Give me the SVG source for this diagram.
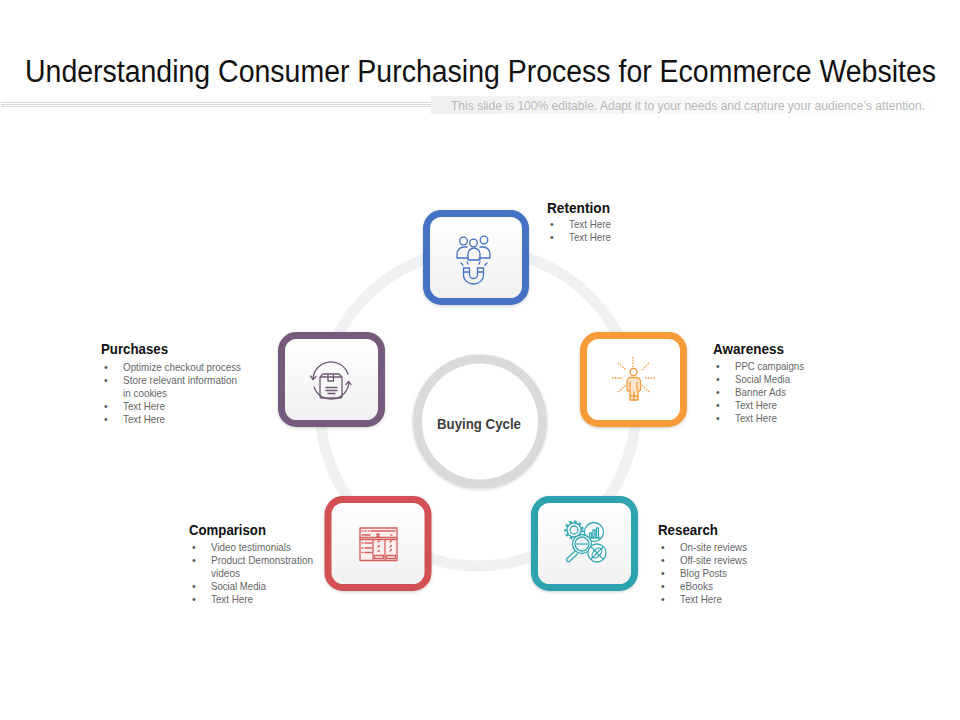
<svg xmlns="http://www.w3.org/2000/svg" width="960" height="720" viewBox="0 0 960 720">
<style>
text{font-family:"Liberation Sans",Arial,sans-serif}
.h{font-size:14.500px;font-weight:700;fill:#111}
.t{font-size:10.500px;fill:#666}
.b{font-size:10.500px;fill:#555}
.card{stroke-width:7;fill:url(#cardfill)}
.ic{fill:none;stroke-width:1.300;stroke-linecap:round;stroke-linejoin:round}
</style>
<defs>
<linearGradient id="cardfill" x1="0" y1="0" x2="0" y2="1"><stop offset="0" stop-color="#fff"/><stop offset="1" stop-color="#f1f1f1"/></linearGradient>
<linearGradient id="strip" x1="0" y1="0" x2="1" y2="0"><stop offset="0" stop-color="#f0f0f0"/><stop offset=".45" stop-color="#f7f7f7"/><stop offset="1" stop-color="#fff"/></linearGradient>
<filter id="sh" x="-20%" y="-20%" width="140%" height="140%"><feDropShadow dx="0" dy="1" stdDeviation="1.500" flood-color="#000" flood-opacity=".2"/></filter>
</defs>
<rect width="960" height="720" fill="#fff"/>
<text x="25" y="82" font-size="31" fill="#111" textLength="911" lengthAdjust="spacingAndGlyphs">Understanding Consumer Purchasing Process for Ecommerce Websites</text>
<g stroke="#d6d6d6" stroke-width="1"><path d="M1 102.500H431M1 104.500H431M1 106.500H431"/></g>
<rect x="431" y="96" width="510" height="18" fill="url(#strip)"/>
<text x="451" y="110" font-size="12" fill="#b9b9b9" textLength="474" lengthAdjust="spacingAndGlyphs">This slide is 100% editable. Adapt it to your needs and capture your audience’s attention.</text>

<circle cx="478" cy="408" r="158" fill="none" stroke="#f1f1f1" stroke-width="11"/>

<g id="center">
<circle cx="480" cy="421.500" r="62.500" fill="#fff" stroke="#dadada" stroke-width="9" filter="url(#sh)"/>
<text x="437" y="429" font-size="14.500" font-weight="700" fill="#404040" textLength="84" lengthAdjust="spacingAndGlyphs">Buying Cycle</text>
</g>

<g id="retention">
<rect class="card" x="426.500" y="213.500" width="99" height="88" rx="15" stroke="#4472c4" filter="url(#sh)"/>
<g class="ic" stroke="#4472c4">
<circle cx="463.500" cy="241" r="3.800"/><circle cx="484" cy="240" r="3.800"/><circle cx="473.500" cy="243" r="3.800"/>
<path d="M468 258h-11v-4a7 7 0 0 1 7-7h3M479 258h11v-4a7 7 0 0 0-7-7h-3"/>
<path d="M468 260v-6a6 6 0 0 1 12 0v6z"/>
<path d="M463.500 268v7a10 9 0 0 0 20 0v-7h-6v7a4 3.500 0 0 1-8 0v-7zM463.500 272h6M477.500 272h6"/>
<path d="M461 263l2 2M467 262l1 2M479 264l1-2M485 265l2-2"/>
</g>
<text class="h" x="547" y="213" textLength="63" lengthAdjust="spacingAndGlyphs">Retention</text>
<text class="b" x="550" y="228">•</text><text class="t" x="569" y="228" textLength="42" lengthAdjust="spacingAndGlyphs">Text Here</text>
<text class="b" x="550" y="241">•</text><text class="t" x="569" y="241" textLength="42" lengthAdjust="spacingAndGlyphs">Text Here</text>
</g>

<g id="awareness">
<rect x="583.500" y="335.500" width="100" height="88" rx="15" fill="#fff" stroke="#f79a38" stroke-width="7" filter="url(#sh)"/>
<g class="ic" stroke="#f39a3d">
<circle cx="633.500" cy="372" r="3.500"/>
<path d="M630 400v-9h-1.500a1.500 1.500 0 0 1-1.500-1.500v-8a4 4 0 0 1 4-4h5.500a4 4 0 0 1 4 4v8a1.500 1.500 0 0 1-1.500 1.500H638v9z" fill="#fde6cf"/>
<path d="M630 382v8M637 382v8M634 392v8M630 396h8"/>
<path stroke-dasharray="1.500 1.300" stroke-linecap="butt" d="M633 357v10M612 378h11M645 378h10M618 363l8 7M649 363l-7 7M618 392l8-7M649 392l-7-7"/>
</g>
<text class="h" x="713" y="354" textLength="71" lengthAdjust="spacingAndGlyphs">Awareness</text>
<text class="b" x="716" y="370">•</text><text class="t" x="735" y="370" textLength="69" lengthAdjust="spacingAndGlyphs">PPC campaigns</text>
<text class="b" x="716" y="383">•</text><text class="t" x="735" y="383" textLength="55" lengthAdjust="spacingAndGlyphs">Social Media</text>
<text class="b" x="716" y="396">•</text><text class="t" x="735" y="396" textLength="51" lengthAdjust="spacingAndGlyphs">Banner Ads</text>
<text class="b" x="716" y="409">•</text><text class="t" x="735" y="409" textLength="42" lengthAdjust="spacingAndGlyphs">Text Here</text>
<text class="b" x="716" y="422">•</text><text class="t" x="735" y="422" textLength="42" lengthAdjust="spacingAndGlyphs">Text Here</text>
</g>

<g id="research">
<rect class="card" x="534.500" y="499.500" width="100" height="88" rx="15" stroke="#2ea3b0" filter="url(#sh)"/>
<g class="ic" stroke="#35a9b5" stroke-width="1.100">
<circle cx="574" cy="530" r="4"/>
<circle cx="574" cy="530" r="7"/>
<circle cx="574" cy="530" r="8.500" stroke-width="2.400" stroke-dasharray="2.500 2.500" stroke-linecap="butt"/>
<circle cx="594" cy="532" r="9.500" fill="#fff"/>
<path d="M588 538h12M589.500 538v-5h2v5M593 538v-8h2v8M596.500 538v-10h2v10"/>
<circle cx="582" cy="544" r="9.500" fill="#fff"/><circle cx="582" cy="544" r="7" fill="#eaf6f7"/>
<path stroke-dasharray="1.500 1.500" d="M577 544h10"/>
<path d="M575 551l-8 7.500a2 2 0 0 0 2.500 3l8-7.500"/>
<circle cx="597" cy="553" r="9" fill="#fff"/>
<path d="M591 547l12 12M603 547l-12 12"/><ellipse cx="597" cy="553" rx="3.500" ry="6" transform="rotate(45 597 553)"/>
</g>
<text class="h" x="658" y="535" textLength="60" lengthAdjust="spacingAndGlyphs">Research</text>
<text class="b" x="661" y="551">•</text><text class="t" x="680" y="551" textLength="67" lengthAdjust="spacingAndGlyphs">On-site reviews</text>
<text class="b" x="661" y="564">•</text><text class="t" x="680" y="564" textLength="67" lengthAdjust="spacingAndGlyphs">Off-site reviews</text>
<text class="b" x="661" y="577">•</text><text class="t" x="680" y="577" textLength="47" lengthAdjust="spacingAndGlyphs">Blog Posts</text>
<text class="b" x="661" y="590">•</text><text class="t" x="680" y="590" textLength="33" lengthAdjust="spacingAndGlyphs">eBooks</text>
<text class="b" x="661" y="603">•</text><text class="t" x="680" y="603" textLength="42" lengthAdjust="spacingAndGlyphs">Text Here</text>
</g>

<g id="comparison">
<rect class="card" x="328" y="499.500" width="100" height="88" rx="15" stroke="#d25052" filter="url(#sh)"/>
<g class="ic" stroke="#d5605f" stroke-width="1.100">
<rect x="360" y="528" width="37" height="32.500" fill="#fdf0ee"/>
<path d="M360 537.500h37M360 539.500h37M373 539.500v21M385 539.500v21"/>
<path d="M362 531h1M365 531h1M368 531h1M371 531h24M362 535h8M377 534h2v2.500h-2zM391 535h1"/>
<path d="M362 543h1M365 543h7M362 548h1M365 548h7M362 552.500h1M365 552.500h7"/>
<path d="M378 542l1.500-1.500M378 547l1.500-1.500M378 551h1.500M390 542l1.500-1.500M390 547l1.500-1.500M390 551l1.500-1.500"/>
<rect x="374.500" y="555.500" width="9" height="3"/><rect x="386.500" y="555.500" width="9" height="3"/>
</g>
<text class="h" x="189" y="535" textLength="77" lengthAdjust="spacingAndGlyphs">Comparison</text>
<text class="b" x="192" y="551">•</text><text class="t" x="211" y="551" textLength="80" lengthAdjust="spacingAndGlyphs">Video testimonials</text>
<text class="b" x="192" y="564">•</text><text class="t" x="211" y="564" textLength="102" lengthAdjust="spacingAndGlyphs">Product Demonstration</text>
<text class="t" x="211" y="577" textLength="29" lengthAdjust="spacingAndGlyphs">videos</text>
<text class="b" x="192" y="590">•</text><text class="t" x="211" y="590" textLength="55" lengthAdjust="spacingAndGlyphs">Social Media</text>
<text class="b" x="192" y="603">•</text><text class="t" x="211" y="603" textLength="42" lengthAdjust="spacingAndGlyphs">Text Here</text>
</g>

<g id="purchases">
<rect class="card" x="281.500" y="335.500" width="100" height="88" rx="15" stroke="#745a7c" filter="url(#sh)"/>
<g class="ic" stroke="#6d5a72" stroke-width="1">
<path d="M313 379a18 18 0 0 1 35-5"/><path d="M349 382a18 18 0 0 1-35 5"/>
<path d="M310.500 376l2.500 3.500 3-3M346 384.500l2.500-3 2.500 3"/>
<path d="M320 377l3-3h16l3 3v19a2 2 0 0 1-2 2h-18a2 2 0 0 1-2-2zM320 377h22M328 374v7h5.500v-7"/>
<path d="M326 387.500h11M326 390.500h11M328 393.500h7"/>
</g>
<text class="h" x="101" y="354" textLength="67" lengthAdjust="spacingAndGlyphs">Purchases</text>
<text class="b" x="104" y="371">•</text><text class="t" x="123" y="371" textLength="118" lengthAdjust="spacingAndGlyphs">Optimize checkout process</text>
<text class="b" x="104" y="384">•</text><text class="t" x="123" y="384" textLength="114" lengthAdjust="spacingAndGlyphs">Store relevant information</text>
<text class="t" x="123" y="397" textLength="44" lengthAdjust="spacingAndGlyphs">in cookies</text>
<text class="b" x="104" y="410">•</text><text class="t" x="123" y="410" textLength="42" lengthAdjust="spacingAndGlyphs">Text Here</text>
<text class="b" x="104" y="423">•</text><text class="t" x="123" y="423" textLength="42" lengthAdjust="spacingAndGlyphs">Text Here</text>
</g>
</svg>
